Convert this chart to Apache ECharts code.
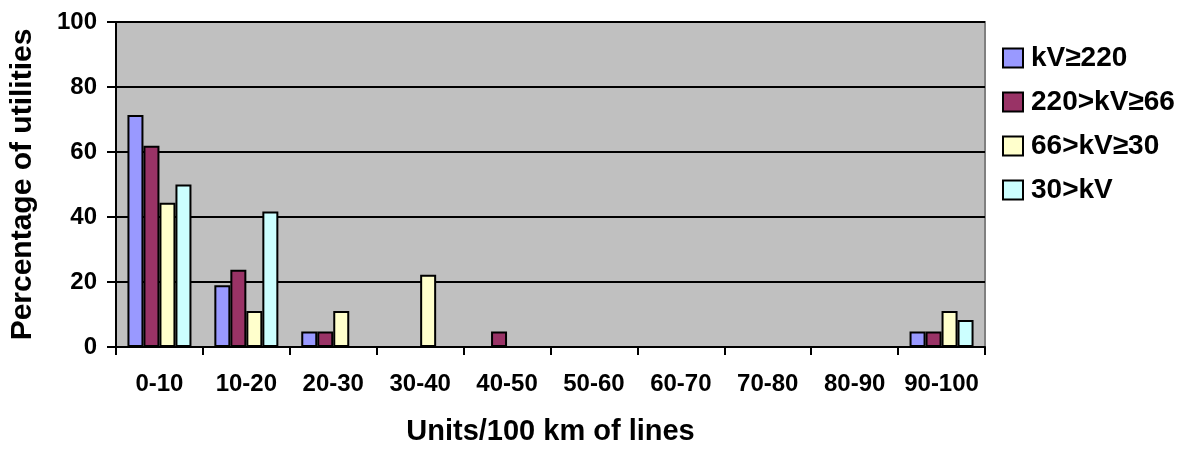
<!DOCTYPE html>
<html>
<head>
<meta charset="utf-8">
<script src="https://cdn.jsdelivr.net/npm/echarts@6/dist/echarts.min.js"></script>
<style>
html,body{margin:0;padding:0;background:#fff;}
#chart{width:1187px;height:451px;}
</style>
</head>
<body>
<div id="chart"></div>
<script>
const categories = ['0-10','10-20','20-30','30-40','40-50','50-60','60-70','70-80','80-90','90-100'];
const seriesNames = ['kV\u2265220','220>kV\u226566','66>kV\u226530','30>kV'];
const kv220 = [71.4, 19.0, 4.8, 0, 0, 0, 0, 0, 0, 4.8];
const kv66  = [61.9, 23.8, 4.8, 0, 4.8, 0, 0, 0, 0, 4.8];
const kv30  = [44.4, 11.1, 11.1, 22.2, 0, 0, 0, 0, 0, 11.1];
const kvLow = [50.0, 41.7, 0, 0, 0, 0, 0, 0, 0, 8.3];
const yTicks = [0, 20, 40, 60, 80, 100];
const colors = ['#9999FF', '#993366', '#FFFFCC', '#CCFFFF'];
const seriesData = [kv220, kv66, kv30, kvLow];

const FONT = '"Liberation Sans", Arial, sans-serif';
const chart = echarts.init(document.getElementById('chart'), null, {renderer: 'canvas'});
chart.setOption({
  animation: false,
  backgroundColor: '#ffffff',
  grid: {
    left: 116, top: 22, right: 202, bottom: 98,
    show: true, backgroundColor: '#C0C0C0', borderColor: '#808080', borderWidth: 2
  },
  legend: {
    orient: 'vertical',
    left: 997, top: 39,
    itemWidth: 20, itemHeight: 19,
    itemGap: 16,
    icon: 'rect',
    itemStyle: {borderColor: '#000', borderWidth: 2},
    textStyle: {fontFamily: FONT, fontWeight: 'bold', fontSize: 28, color: '#000', lineHeight: 28, padding: [0,0,0,3]},
    data: seriesNames
  },
  xAxis: {
    type: 'category',
    data: categories,
    name: 'Units/100 km of lines',
    nameLocation: 'middle',
    nameGap: 70,
    nameTextStyle: {fontFamily: FONT, fontWeight: 'bold', fontSize: 29, color: '#000'},
    axisLine: {lineStyle: {color: '#000', width: 2}},
    axisTick: {show: true, length: 8, lineStyle: {color: '#000', width: 2}},
    axisLabel: {fontFamily: FONT, fontWeight: 'bold', fontSize: 24, color: '#000', margin: 25, interval: 0},
    splitLine: {show: false}
  },
  yAxis: {
    type: 'value',
    min: yTicks[0], max: yTicks[yTicks.length - 1], interval: 20,
    name: 'Percentage of utilities',
    nameLocation: 'middle',
    nameGap: 78,
    nameTextStyle: {fontFamily: FONT, fontWeight: 'bold', fontSize: 30, color: '#000'},
    axisLine: {show: true, lineStyle: {color: '#000', width: 2}},
    axisTick: {show: true, length: 9, lineStyle: {color: '#000', width: 2}},
    axisLabel: {fontFamily: FONT, fontWeight: 'bold', fontSize: 24, color: '#000', margin: 19},
    splitLine: {show: true, lineStyle: {color: '#000', width: 2}}
  },
  series: seriesNames.map((name, i) => ({
    name: name,
    type: 'bar',
    data: seriesData[i],
    barWidth: 16,
    barGap: '0%',
    itemStyle: {color: colors[i], borderColor: '#000', borderWidth: 2}
  }))
});
</script>
</body>
</html>
